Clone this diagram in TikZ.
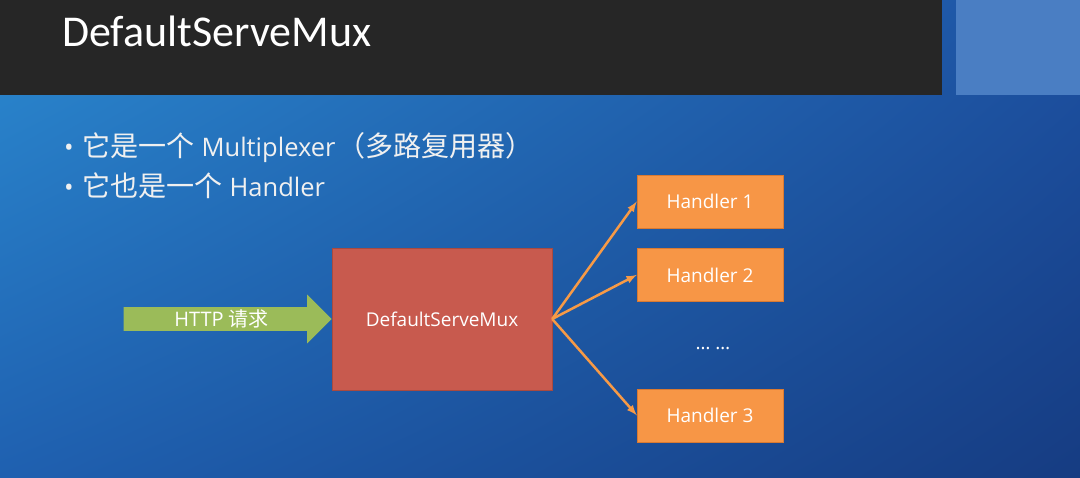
\documentclass[tikz,border=0pt]{standalone}
\usepackage{fontspec}
\setmainfont{Open Sans}
\newfontfamily\cjk{Noto Sans CJK SC}
\newfontfamily\cjkwide{Noto Sans CJK SC}[Scale=1.1]
\newfontfamily\titlefont{Carlito}
\usepackage{xcolor}
\usetikzlibrary{shapes,arrows,positioning,shadings}

\definecolor{barGray}{HTML}{262626}
\definecolor{cornerBlue}{HTML}{4A7EC3}
\definecolor{bgUL}{HTML}{2B8AD0}
\definecolor{bgUR}{HTML}{1D52A3}
\definecolor{bgLL}{HTML}{1F60B0}
\definecolor{bgLR}{HTML}{163C82}
\definecolor{reqGreen}{HTML}{9BBB59}
\definecolor{muxRed}{HTML}{C85A4E}
\definecolor{muxEdge}{HTML}{A84A40}
\definecolor{handlerOrange}{HTML}{F79646}
\definecolor{handlerEdge}{HTML}{D97A32}
\definecolor{fanOrange}{HTML}{F79A46}

\begin{document}
\begin{tikzpicture}[x=1pt, y=-1pt, node distance=20pt,
  handler/.style={draw=handlerEdge, fill=handlerOrange, text=white, minimum width=146pt, minimum height=53pt, inner sep=0pt, font=\fontsize{19}{23}\selectfont},
  fan/.style={-latex, line width=2.5pt, draw=fanOrange},
  bullet/.style={anchor=base west, text=white!94!black, inner sep=0pt, font=\fontsize{25.5}{30}\selectfont}]
  \useasboundingbox (0,0) rectangle (1080,478);
  % slide background
  \shade[upper left=bgUL, upper right=bgUR, lower left=bgLL, lower right=bgLR] (0,0) rectangle (1080,478);
  \fill[barGray] (0,0) rectangle (942,95);
  \fill[cornerBlue] (956,0) rectangle (1080,95);
  \node[anchor=base west, text=white, inner sep=0pt, font=\titlefont\fontsize{44}{50}\selectfont] (title) at (62,47) {DefaultServeMux};

  % bullet points
  \node[bullet] (point1) at (64,157) {•\hspace{9pt}{\cjkwide 它是一个} Multiplexer\hspace{2pt}{\cjkwide （多路复用器）}};
  \node[bullet] (point2) at (64,197) {•\hspace{9pt}{\cjkwide 它也是一个} Handler};

  % diagram
  \node[draw=muxEdge, fill=muxRed, text=white, minimum width=220pt, minimum height=142pt, font=\fontsize{19}{23}\selectfont] (mux) at (442,319) {DefaultServeMux};
  \node[single arrow, fill=reqGreen, text=white, anchor=tip, minimum height=208pt, inner xsep=4pt, inner ysep=2.5pt, single arrow head extend=12.5pt, single arrow tip angle=90, font=\fontsize{20}{24}\selectfont] (request) at (mux.west) {HTTP {\cjk 请求}};

  \node[handler] (h1) at (710,201.5) {Handler 1};
  \node[handler, below=of h1] (h2) {Handler 2};
  \node[handler, below=87pt of h2] (h3) {Handler 3};
  \node[text=white, font=\fontsize{19}{23}\selectfont] (more) at (713,349) {… …};

  \draw[fan] (mux.east) -- (h1.west);
  \draw[fan] (mux.east) -- (h2.west);
  \draw[fan] (mux.east) -- (h3.west);
\end{tikzpicture}
\end{document}
